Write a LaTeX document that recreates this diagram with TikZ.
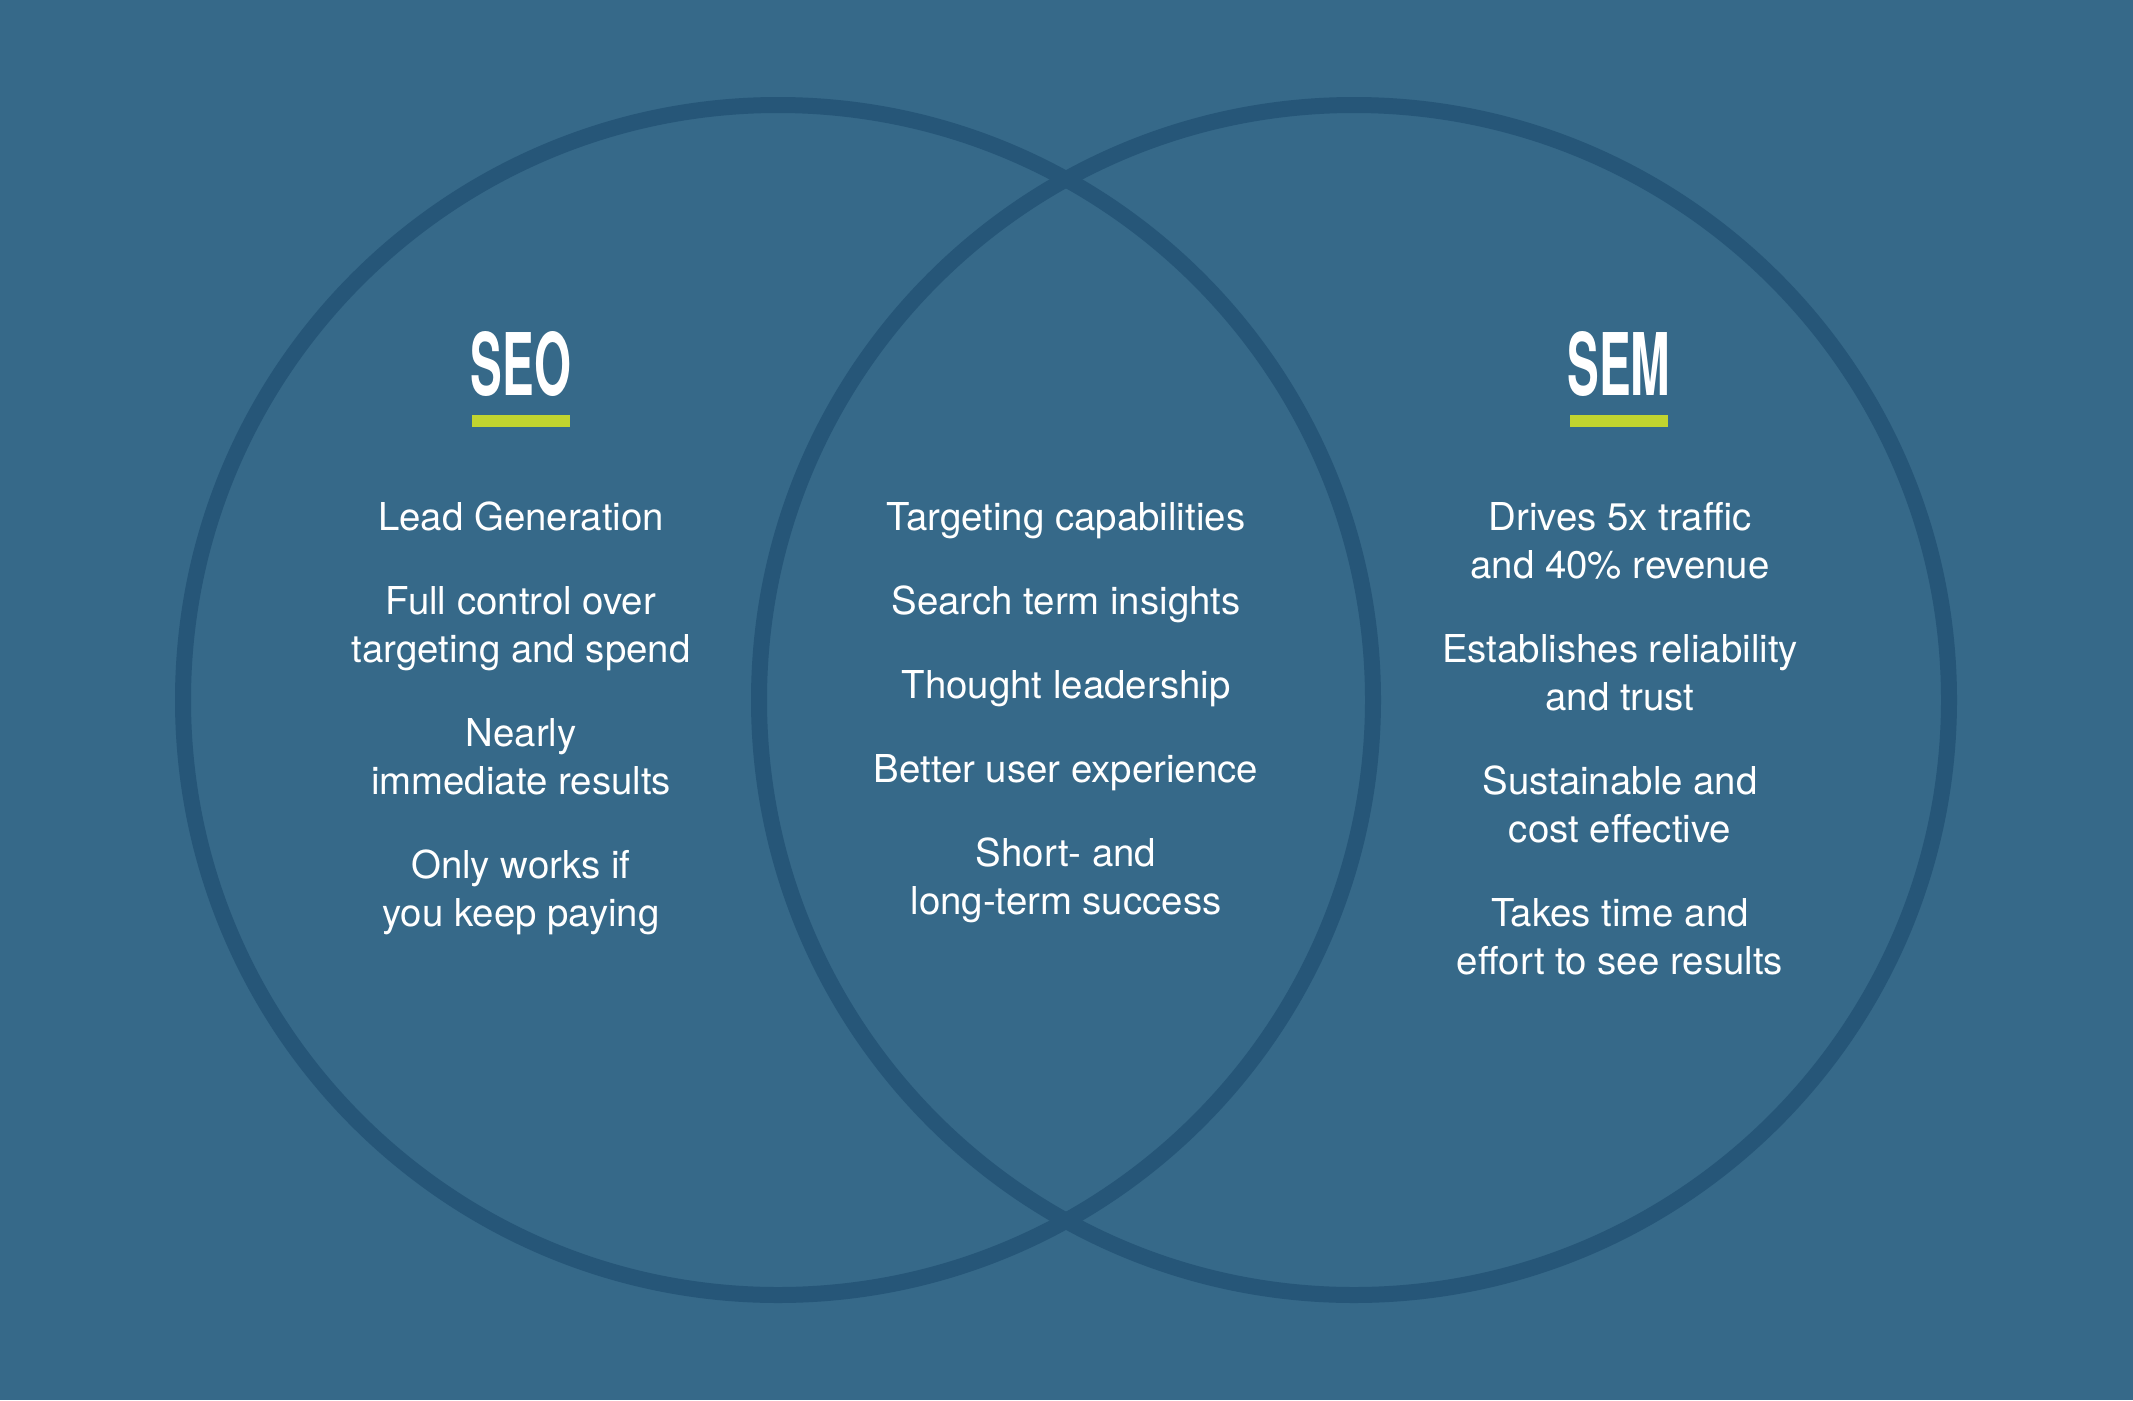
\documentclass[tikz,border=0pt]{standalone}
\usepackage{fontspec}
\setmainfont{TeX Gyre Heros}
\newfontfamily\headfont[FakeStretch=0.55]{TeX Gyre Heros}
\usetikzlibrary{positioning}

\definecolor{backblue}{RGB}{54,105,137}
\definecolor{ringblue}{RGB}{38,86,120}
\definecolor{limebar}{RGB}{193,212,47}

\tikzset{
	ring/.style={circle,draw=ringblue,line width=16pt,minimum size=1190pt,inner sep=0pt},
	heading/.style={anchor=base,text=white,font=\headfont\bfseries\fontsize{86.4}{90}\selectfont},
	underbar/.style={fill=limebar,minimum width=98pt,minimum height=12pt,inner sep=0pt},
	item/.style={anchor=base,align=center,text=white,inner sep=0pt,font=\fontsize{38.4}{48}\selectfont}
}

\begin{document}
\begin{tikzpicture}[x=1pt,y=-1pt]
		\fill[backblue] (0,0) rectangle (2133,1400);
		\useasboundingbox (0,0) rectangle (2133,1400);

		\draw (778,700) node [ring] (seoring){};
		\draw (1354,700) node [ring] (semring){};

		\draw (521,395) node [heading] (seo){SEO};
		\node [underbar, below=20pt of seo.base] (seobar){};
		\draw (1619,395) node [heading] (sem){SEM};
		\node [underbar, below=20pt of sem.base] (sembar){};

		% SEO side (base = last line)
		\draw (521,530) node [item] (lead){Lead Generation};
		\draw (521,662) node [item] (control){Full control over\\targeting and spend};
		\draw (521,794) node [item] (nearly){Nearly\\immediate results};
		\draw (521,926) node [item] (paying){Only works if\\you keep paying};

		% both
		\draw (1066,530) node [item] (target){Targeting capabilities};
		\draw (1066,614) node [item] (insight){Search term insights};
		\draw (1066,698) node [item] (leader){Thought leadership};
		\draw (1066,782) node [item] (ux){Better user experience};
		\draw (1066,914) node [item] (success){Short- and\\long-term success};

		% SEM side
		\draw (1620,578) node [item] (traffic){Drives 5x traffic\\and 40\% revenue};
		\draw (1620,710) node [item] (trust){Establishes reliability\\and trust};
		\draw (1620,842) node [item] (cost){Sustainable and\\cost effective};
		\draw (1620,974) node [item] (effort){Takes time and\\effort to see results};
	\end{tikzpicture}
\end{document}
